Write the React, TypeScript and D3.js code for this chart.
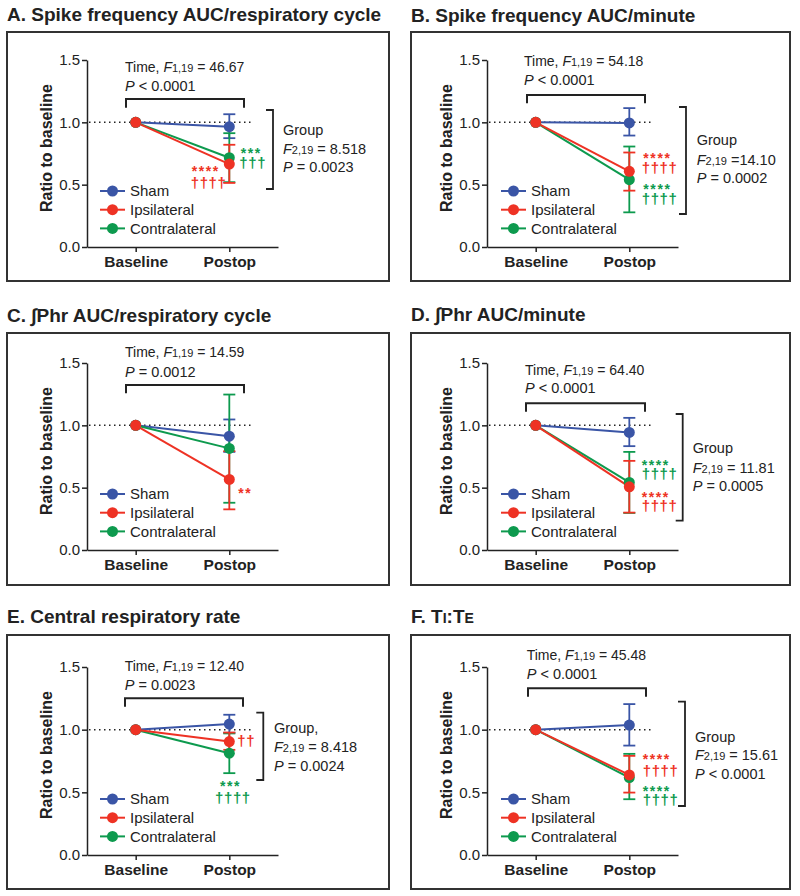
import React, { useEffect, useRef } from 'react';
import * as d3 from 'd3';

// ---- data ----
const groups = ['Sham', 'Ipsilateral', 'Contralateral'];
const timepoints = ['Baseline', 'Postop'];
const yTicks = [0, 0.5, 1.0, 1.5];
const baselineValue = 1.0;

// postop mean and SD limits, one value per panel A..F
const shamPostop = [0.965, 0.995, 0.913, 0.943, 1.045, 1.037];
const shamLow = [0.873, 0.894, 0.787, 0.833, 0.975, 0.873];
const shamHigh = [1.065, 1.114, 1.047, 1.06, 1.119, 1.204];
const ipsiPostop = [0.665, 0.607, 0.566, 0.507, 0.905, 0.639];
const ipsiLow = [0.514, 0.452, 0.326, 0.3, 0.839, 0.498];
const ipsiHigh = [0.82, 0.758, 0.793, 0.715, 0.977, 0.791];
const contraPostop = [0.716, 0.54, 0.815, 0.542, 0.812, 0.618];
const contraLow = [0.52, 0.278, 0.379, 0.297, 0.653, 0.445];
const contraHigh = [0.913, 0.806, 1.247, 0.787, 0.97, 0.807];

const titles = [
  'A. Spike frequency AUC/respiratory cycle',
  'B. Spike frequency AUC/minute',
  'C. \u222BPhr AUC/respiratory cycle',
  'D. \u222BPhr AUC/minute',
  'E. Central respiratory rate',
  'F. TI:TE',
];
const timeF = ['46.67', '54.18', '14.59', '64.40', '12.40', '45.48'];
const timeP = ['< 0.0001', '< 0.0001', '= 0.0012', '< 0.0001', '= 0.0023', '< 0.0001'];
const groupLabel = ['Group', 'Group', '', 'Group', 'Group,', 'Group'];
const groupF = ['= 8.518', '=14.10', '', '= 11.81', '= 8.418', '= 15.61'];
const groupP = ['= 0.0023', '= 0.0002', '', '= 0.0005', '= 0.0024', '< 0.0001'];

const ipsiStars = ['****', '****', '**', '****', '', '****'];
const ipsiDaggers = ['††††', '††††', '', '††††', '††', '††††'];
const contraStars = ['***', '****', '', '****', '***', '****'];
const contraDaggers = ['†††', '††††', '', '††††', '††††', '††††'];

const colors = ['#3a55a6', '#ee3224', '#0d9a4e'];
const FONT = '"Liberation Sans", Arial, sans-serif';

// ---- layout (pixels) ----
const layout = [
  { lx: 0, box: [7, 32, 389, 281], yTop: 60, yBot: 247, titleY: 21,
    time: { x: 125, b1: 71.7, b2: 90.7, br: 99, brEnd: 107.7, x0: 126, x1: 244 },
    grp: { x: 273, y0: 110, y1: 189, tx: 283, b: [135, 154, 172.3] },
    ann: { is: [191.7, 176], id: [190.7, 187.5], cs: [240.7, 157.7], cd: [239.3, 168] } },
  { lx: 400, box: [411, 32, 790, 281], yTop: 60, yBot: 247, titleY: 21.5,
    time: { x: 524, b1: 65.7, b2: 85, br: 95, brEnd: 103.3, x0: 527, x1: 645 },
    grp: { x: 686, y0: 107, y1: 214, tx: 696.7, b: [145, 165, 183.3] },
    ann: { is: [643.3, 162.7], id: [641.7, 173], cs: [643.3, 194.4], cd: [641.7, 203.5] } },
  { lx: 0, box: [7, 333, 389, 585], yTop: 363, yBot: 550, titleY: 321.7,
    time: { x: 125, b1: 356.7, b2: 377.3, br: 385, brEnd: 393.3, x0: 126, x1: 244 },
    grp: null,
    ann: { is: [238.3, 497.7], id: [0, 0], cs: [0, 0], cd: [0, 0] } },
  { lx: 400, box: [411, 333, 790, 585], yTop: 363, yBot: 550, titleY: 321,
    time: { x: 525, b1: 375, b2: 393.3, br: 403.3, brEnd: 411.7, x0: 526, x1: 645 },
    grp: { x: 682.7, y0: 414, y1: 520.7, tx: 692.7, b: [453.3, 472.7, 491] },
    ann: { is: [641.7, 501.7], id: [641.7, 511], cs: [641.7, 470], cd: [641.7, 478.5] } },
  { lx: 0, box: [7, 635, 389, 889], yTop: 667, yBot: 855, titleY: 623.3,
    time: { x: 124.7, b1: 670.7, b2: 690, br: 698.3, brEnd: 706.7, x0: 125, x1: 243 },
    grp: { x: 263.3, y0: 712.7, y1: 780, tx: 274, b: [733, 751.7, 770.7] },
    ann: { is: [0, 0], id: [237.3, 745.8], cs: [220, 790.5], cd: [215, 803] } },
  { lx: 400, box: [411, 635, 790, 889], yTop: 667, yBot: 855, titleY: 623.3,
    time: { x: 526.7, b1: 660, b2: 679.3, br: 688.3, brEnd: 696.7, x0: 528, x1: 646 },
    grp: { x: 685, y0: 701.7, y1: 806, tx: 695, b: [741.7, 760, 779] },
    ann: { is: [642.7, 764], id: [642.7, 775.5], cs: [642.7, 795.5], cd: [642.7, 805] } },
];

function App() {
  const ref = useRef<SVGSVGElement | null>(null);

  useEffect(() => {
    const svg = d3.select(ref.current);
    svg.selectAll('*').remove();

    const postop = [shamPostop, ipsiPostop, contraPostop];
    const lows = [shamLow, ipsiLow, contraLow];
    const highs = [shamHigh, ipsiHigh, contraHigh];
    const drawOrder = [0, 2, 1];

    layout.forEach((L, p) => {
      const g = svg.append('g');
      const [bx0, by0, bx1, by1] = L.box;

      g.append('rect')
        .attr('x', bx0).attr('y', by0)
        .attr('width', bx1 - bx0).attr('height', by1 - by0)
        .attr('fill', 'none').attr('stroke', '#333').attr('stroke-width', 2);

      // title (F uses small capitals for I and E)
      const t = g.append('text')
        .attr('x', bx0).attr('y', L.titleY)
        .attr('font-family', FONT).attr('font-weight', 'bold')
        .attr('font-size', 19).attr('fill', '#222');
      if (p === 5) {
        t.append('tspan').text('F. T');
        t.append('tspan').attr('font-size', 14).text('I');
        t.append('tspan').text(':T');
        t.append('tspan').attr('font-size', 14).text('E');
      } else {
        t.text(titles[p]);
      }

      const axisX = 87 + L.lx;
      const x = d3.scalePoint<string>().domain(timepoints).range([axisX, 278 + L.lx]).padding(0.52);
      const y = d3.scaleLinear().domain([0, 1.5]).range([L.yBot, L.yTop]);

      // axes
      const yAxis = g.append('g')
        .attr('transform', `translate(${axisX},0)`)
        .call(d3.axisLeft(y).tickValues(yTicks).tickFormat(d3.format('.1f')).tickSize(5).tickSizeOuter(0).tickPadding(2));
      yAxis.selectAll('text').attr('font-family', FONT).attr('font-size', 15).attr('fill', '#222');
      yAxis.selectAll('path, line').attr('stroke', '#222').attr('stroke-width', 1.5);

      const xAxis = g.append('g')
        .attr('transform', `translate(0,${L.yBot})`)
        .call(d3.axisBottom(x).tickSize(5).tickSizeOuter(0).tickPadding(4));
      xAxis.selectAll('text').attr('font-family', FONT).attr('font-size', 15.5)
        .attr('font-weight', 'bold').attr('fill', '#222');
      xAxis.selectAll('path, line').attr('stroke', '#222').attr('stroke-width', 1.5);

      g.append('text')
        .attr('transform', `translate(${52 + L.lx},${L.yTop + 88}) rotate(-90)`)
        .attr('text-anchor', 'middle')
        .attr('font-family', FONT).attr('font-weight', 'bold').attr('font-size', 16)
        .attr('fill', '#222').text('Ratio to baseline');

      // dotted reference at 1.0
      g.append('line')
        .attr('x1', axisX + 2).attr('x2', (x('Postop') as number) + 22)
        .attr('y1', y(baselineValue)).attr('y2', y(baselineValue))
        .attr('stroke', '#222').attr('stroke-width', 1.5).attr('stroke-dasharray', '1.5,3.5');

      const bx = x('Baseline') as number;
      const px = x('Postop') as number;

      // lines
      drawOrder.forEach((gi) => {
        g.append('line')
          .attr('x1', bx).attr('y1', y(baselineValue))
          .attr('x2', px).attr('y2', y(postop[gi][p]))
          .attr('stroke', colors[gi]).attr('stroke-width', 2);
      });
      // error bars
      drawOrder.forEach((gi) => {
        const lo = y(lows[gi][p]);
        const hi = y(highs[gi][p]);
        const eb = g.append('g').attr('stroke', colors[gi]).attr('stroke-width', 1.8);
        eb.append('line').attr('x1', px).attr('x2', px).attr('y1', lo).attr('y2', hi);
        eb.append('line').attr('x1', px - 6).attr('x2', px + 6).attr('y1', lo).attr('y2', lo);
        eb.append('line').attr('x1', px - 6).attr('x2', px + 6).attr('y1', hi).attr('y2', hi);
      });
      // points
      drawOrder.forEach((gi) => {
        g.append('circle').attr('cx', bx).attr('cy', y(baselineValue)).attr('r', 5.5).attr('fill', colors[gi]);
        g.append('circle').attr('cx', px).attr('cy', y(postop[gi][p])).attr('r', 5.5).attr('fill', colors[gi]);
      });

      // legend
      groups.forEach((name, gi) => {
        const ly = L.yBot - 56 + gi * 18.7;
        const lx0 = 100 + L.lx + (L.lx ? 1 : 0);
        g.append('line').attr('x1', lx0).attr('x2', lx0 + 25).attr('y1', ly).attr('y2', ly)
          .attr('stroke', colors[gi]).attr('stroke-width', 2);
        g.append('circle').attr('cx', lx0 + 12.5).attr('cy', ly).attr('r', 5.5).attr('fill', colors[gi]);
        g.append('text').attr('x', lx0 + 30).attr('y', ly + 5.3)
          .attr('font-family', FONT).attr('font-size', 15).attr('fill', '#222').text(name);
      });

      // time statistics
      const T = L.time;
      const l1 = g.append('text').attr('x', T.x).attr('y', T.b1)
        .attr('font-family', FONT).attr('font-size', 14).attr('fill', '#222');
      l1.append('tspan').text('Time, ');
      l1.append('tspan').attr('font-style', 'italic').text('F');
      l1.append('tspan').attr('font-size', 11).text('1,19');
      l1.append('tspan').text(' = ' + timeF[p]);
      const l2 = g.append('text').attr('x', T.x).attr('y', T.b2)
        .attr('font-family', FONT).attr('font-size', 14.5).attr('fill', '#222');
      l2.append('tspan').attr('font-style', 'italic').text('P');
      l2.append('tspan').text(' ' + timeP[p]);
      g.append('path')
        .attr('d', `M${T.x0},${T.brEnd}V${T.br}H${T.x1}V${T.brEnd}`)
        .attr('fill', 'none').attr('stroke', '#222').attr('stroke-width', 2);

      // group statistics
      if (L.grp) {
        const G = L.grp;
        g.append('path')
          .attr('d', `M${G.x - 7},${G.y0}H${G.x}V${G.y1}H${G.x - 7}`)
          .attr('fill', 'none').attr('stroke', '#222').attr('stroke-width', 1.8);
        const gt = (yy: number) => g.append('text').attr('x', G.tx).attr('y', yy)
          .attr('font-family', FONT).attr('font-size', 14.5).attr('fill', '#222');
        gt(G.b[0]).text(groupLabel[p]);
        const f = gt(G.b[1]);
        f.append('tspan').attr('font-style', 'italic').text('F');
        f.append('tspan').attr('font-size', 11).text('2,19');
        f.append('tspan').text(' ' + groupF[p]);
        const pp = gt(G.b[2]);
        pp.append('tspan').attr('font-style', 'italic').text('P');
        pp.append('tspan').text(' ' + groupP[p]);
      }

      // significance marks: stars over daggers, one text block per group
      const sig: [string, string, number[], number[], string][] = [
        [ipsiStars[p], ipsiDaggers[p], L.ann.is, L.ann.id, colors[1]],
        [contraStars[p], contraDaggers[p], L.ann.cs, L.ann.cd, colors[2]],
      ];
      sig.forEach(([stars, daggers, sp, dp, c]) => {
        if (!stars && !daggers) return;
        const st = g.append('text')
          .attr('font-family', FONT).attr('font-size', 14).attr('font-weight', 'bold').attr('fill', c);
        if (stars) {
          st.append('tspan').attr('x', sp[0]).attr('y', sp[1]).attr('letter-spacing', 1.6).text(stars);
        }
        if (daggers) {
          st.append('tspan').attr('x', dp[0]).attr('y', dp[1]).attr('font-size', 15)
            .attr('letter-spacing', 0.6).text(daggers);
        }
      });
    });
  }, []);

  return (
    <svg ref={ref} width={800} height={896}
      style={{ position: 'absolute', left: 0, top: 0, background: '#fff' }} />
  );
}

export default App;
